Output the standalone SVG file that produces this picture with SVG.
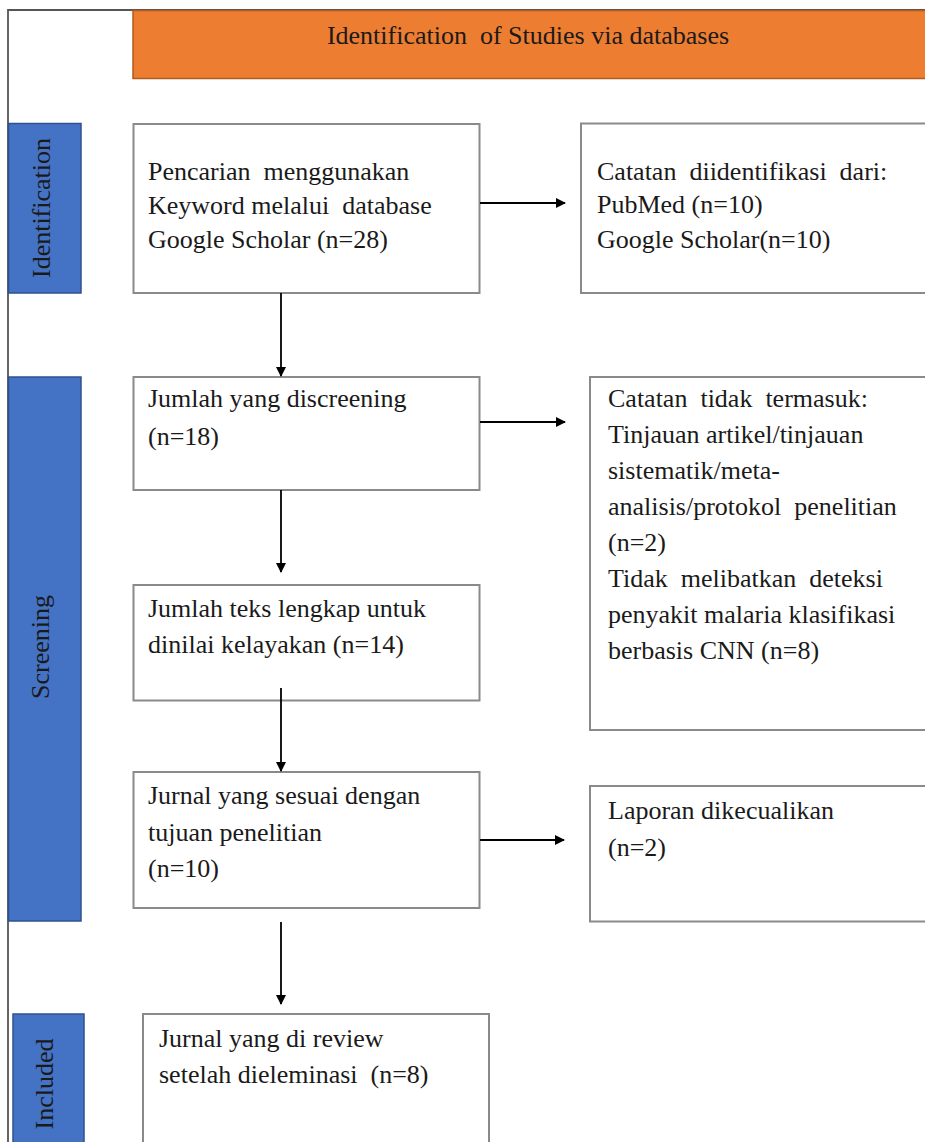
<svg xmlns="http://www.w3.org/2000/svg" width="925" height="1142" viewBox="0 0 925 1142">
<style>
text{font-family:"Liberation Serif","Times New Roman",serif;font-size:26px;fill:#1a1a1a;}
.box{fill:#ffffff;stroke:#8a8a8a;stroke-width:2;}
.phase{fill:#4472C4;stroke:#2F528F;stroke-width:1.5;}
.conn{stroke:#000;stroke-width:1.8;fill:none;marker-end:url(#ah);}
</style>
<defs>
<marker id="ah" markerWidth="10" markerHeight="10" refX="9" refY="5" orient="auto" markerUnits="userSpaceOnUse">
<path d="M0,0 L10,5 L0,10 Z" fill="#000"/>
</marker>
</defs>
<rect x="0" y="0" width="925" height="1142" fill="#ffffff"/>
<g id="frame">
<path d="M8,1142 L8,10 L925,10" fill="none" stroke="#555" stroke-width="1.8"/>
</g>
<g id="header">
<rect x="133" y="10.5" width="800" height="68" fill="#ED7D31" stroke="#AE5A21" stroke-width="1.5"/>
<text x="528" y="44" text-anchor="middle" xml:space="preserve">Identification  of Studies via databases</text>
</g>
<g id="phase-identification">
<rect class="phase" x="8.5" y="123.5" width="72.5" height="169.5"/>
<text transform="translate(50,208) rotate(-90)" text-anchor="middle">Identification</text>
</g>
<g id="phase-screening">
<rect class="phase" x="8.5" y="377" width="72.5" height="544"/>
<text transform="translate(49,647) rotate(-90)" text-anchor="middle">Screening</text>
</g>
<g id="phase-included">
<rect class="phase" x="13" y="1014" width="71" height="140"/>
<text transform="translate(53,1084) rotate(-90)" text-anchor="middle">Included</text>
</g>
<g id="n-search">
<rect class="box" x="133.5" y="124" width="346" height="169"/>
<text x="148" y="180" xml:space="preserve">Pencarian  menggunakan</text>
<text x="148" y="214" xml:space="preserve">Keyword melalui  database</text>
<text x="148" y="248">Google Scholar (n=28)</text>
</g>
<g id="n-records">
<rect class="box" x="581" y="123.5" width="360" height="169.5"/>
<text x="597" y="180" xml:space="preserve">Catatan  diidentifikasi  dari:</text>
<text x="597" y="213">PubMed (n=10)</text>
<text x="597" y="248">Google Scholar(n=10)</text>
</g>
<g id="n-screened">
<rect class="box" x="133.5" y="377" width="346" height="113"/>
<text x="148" y="407">Jumlah yang discreening</text>
<text x="148" y="445">(n=18)</text>
</g>
<g id="n-excluded">
<rect class="box" x="590" y="377" width="350" height="353"/>
<text x="608" y="407" xml:space="preserve">Catatan  tidak  termasuk:</text>
<text x="608" y="443">Tinjauan artikel/tinjauan</text>
<text x="608" y="479">sistematik/meta-</text>
<text x="608" y="515" xml:space="preserve">analisis/protokol  penelitian</text>
<text x="608" y="551">(n=2)</text>
<text x="608" y="587" xml:space="preserve">Tidak  melibatkan  deteksi</text>
<text x="608" y="623">penyakit malaria klasifikasi</text>
<text x="608" y="659">berbasis CNN (n=8)</text>
</g>
<g id="n-fulltext">
<rect class="box" x="133.5" y="585" width="346" height="115.5"/>
<text x="148" y="617">Jumlah teks lengkap untuk</text>
<text x="148" y="653">dinilai kelayakan (n=14)</text>
</g>
<g id="n-relevant">
<rect class="box" x="133.5" y="772" width="346" height="136"/>
<text x="148" y="804">Jurnal yang sesuai dengan</text>
<text x="148" y="841">tujuan penelitian</text>
<text x="148" y="877">(n=10)</text>
</g>
<g id="n-reports-excluded">
<rect class="box" x="590" y="786" width="350" height="135.5"/>
<text x="608" y="819">Laporan dikecualikan</text>
<text x="608" y="856">(n=2)</text>
</g>
<g id="n-included">
<rect class="box" x="143" y="1014" width="346" height="140"/>
<text x="159" y="1047">Jurnal yang di review</text>
<text x="159" y="1083" xml:space="preserve">setelah dieleminasi  (n=8)</text>
</g>
<g id="connectors">
<line class="conn" x1="480" y1="203" x2="565" y2="203"/>
<line class="conn" x1="281" y1="293" x2="281" y2="376"/>
<line class="conn" x1="480" y1="422" x2="565" y2="422"/>
<line class="conn" x1="281" y1="490" x2="281" y2="572"/>
<line class="conn" x1="281" y1="688" x2="281" y2="771"/>
<line class="conn" x1="480" y1="840" x2="564" y2="840"/>
<line class="conn" x1="281" y1="922" x2="281" y2="1004"/>
</g>
</svg>
